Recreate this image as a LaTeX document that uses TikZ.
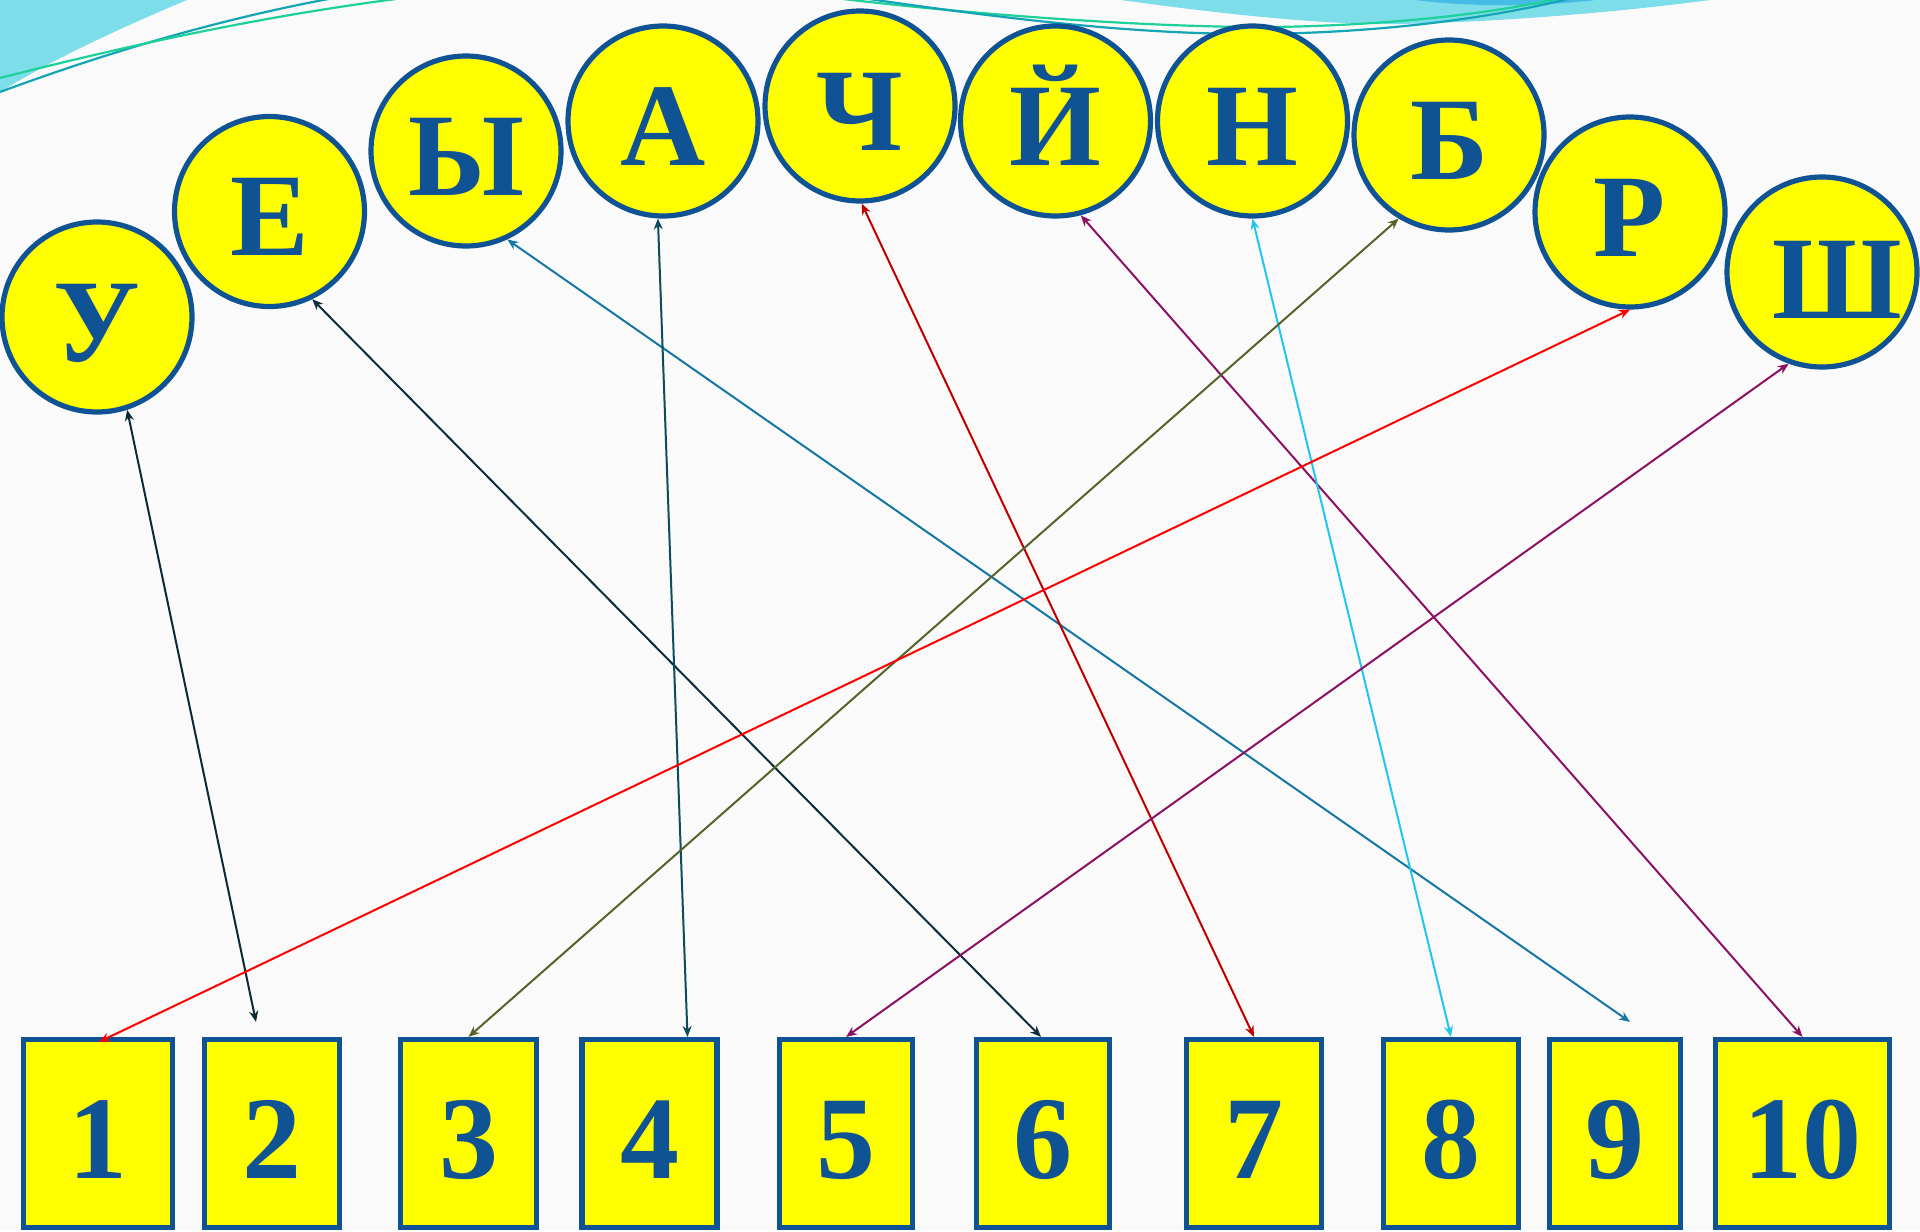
\documentclass[tikz,border=0pt]{standalone}
\usepackage{fontspec}
\setmainfont{Liberation Serif}
\usetikzlibrary{arrows.meta,calc}
\definecolor{nblue}{HTML}{0F5395}
\definecolor{bgc}{HTML}{FAFAFA}
\definecolor{cyanA}{HTML}{7DDDE9}
\definecolor{cyanB}{HTML}{45BCE5}
\definecolor{greenL}{HTML}{1ED09A}
\definecolor{tealL}{HTML}{14A5B5}
\definecolor{cA}{HTML}{0A2A35}
\definecolor{cB}{HTML}{0C2D3E}
\definecolor{cC}{HTML}{1577A3}
\definecolor{cD}{HTML}{0D4B5E}
\definecolor{cE}{HTML}{C00000}
\definecolor{cF}{HTML}{8C1163}
\definecolor{cG}{HTML}{22C5F0}
\definecolor{cH}{HTML}{56642A}
\definecolor{cI}{HTML}{FF0000}
\definecolor{cJ}{HTML}{8C1163}
\definecolor{yel}{HTML}{FFFF00}
\begin{document}
\begin{tikzpicture}[x=0.5pt,y=-0.5pt,
  letter/.style={circle,draw=nblue,fill=yel,line width=2.6pt,minimum size=95pt,inner sep=0pt,
    text=nblue,font=\fontsize{59}{60}\selectfont\bfseries,text height=44pt,text depth=0pt},
  numbox/.style={rectangle,draw=nblue,fill=yel,line width=2.6pt,minimum height=94pt,inner sep=0pt,
    text=nblue,font=\fontsize{59}{60}\selectfont\bfseries,text height=45pt,text depth=0pt},
  link/.style={{Stealth[length=5.5pt,width=4.5pt]}-{Stealth[length=5.5pt,width=4.5pt]},line width=1pt},
  deco/.style={line width=1.1pt}]
\useasboundingbox (0,0) rectangle (1920,1231);
\fill[bgc] (0,0) rectangle (1920,1231);
\begin{scope}
\clip (0,0) rectangle (1920,1231);
\fill[cyanA] (0,-2) -- (187,-2) -- (187,0) .. controls (130,24) and (60,55) .. (0,92) -- cycle;
\fill[cyanA] (1121,-2) -- (1121,0) .. controls (1250,18) and (1340,25) .. (1400,24) .. controls (1500,22) and (1620,12) .. (1710,0) -- (1710,-2) -- cycle;
\fill[cyanB] (1415,0) .. controls (1470,7) and (1540,7) .. (1595,0) -- cycle;
\draw[deco,tealL] (0,92) .. controls (100,55) and (220,18) .. (345,-4);
\draw[deco,greenL] (0,78) .. controls (130,45) and (270,14) .. (420,-4);
\draw[deco,greenL] (835,-2) .. controls (1000,18) and (1180,28) .. (1275,27) .. controls (1400,25) and (1500,12) .. (1560,-2);
\draw[deco,tealL] (862,-2) .. controls (1040,24) and (1150,34) .. (1255,34) .. controls (1390,33) and (1500,16) .. (1572,-2);
\end{scope}

% letter circles
\node[letter] (cU) at (97,317) {У};
\node[letter] (cE) at (269.5,211.5) {Е};
\node[letter] (cY) at (466,151) {Ы};
\node[letter] (cA) at (663,121) {А};
\node[letter] (cCh) at (860,106) {Ч};
\node[letter] (cJ) at (1055.5,121) {Й};
\node[letter] (cN) at (1252.5,121) {Н};
\node[letter] (cB) at (1449,135) {Б};
\node[letter] (cR) at (1630,212) {Р};
\node[letter,text height=46pt] (cSh) at (1822,272) {\hspace*{15pt}Ш};

% number boxes
\node[numbox,minimum width=74.5pt] (b1) at (98,1133.5) {1};
\node[numbox,minimum width=67.5pt] (b2) at (272,1133.5) {2};
\node[numbox,minimum width=68pt] (b3) at (468.5,1133.5) {3};
\node[numbox,minimum width=67.5pt] (b4) at (649.5,1133.5) {4};
\node[numbox,minimum width=66.5pt] (b5) at (846,1133.5) {5};
\node[numbox,minimum width=66.5pt] (b6) at (1043,1133.5) {6};
\node[numbox,minimum width=67.5pt] (b7) at (1254,1133.5) {7};
\node[numbox,minimum width=67.5pt] (b8) at (1451,1133.5) {8};
\node[numbox,minimum width=65.5pt] (b9) at (1615,1133.5) {9};
\node[numbox,minimum width=87pt] (b10) at (1802.5,1133.5) {10};

% free ends
\coordinate (e2) at ($(b2.north)+(-16,-15)$);
\coordinate (e9) at ($(b9.north)+(15,-15)$);
\coordinate (e4) at ($(b4.north)+(38,0)$);
\coordinate (e1) at ($(b1.north)+(1,5)$);
\coordinate (e6) at ($(b6.north)+(-2,0)$);

% connectors
\draw[link,color=cA] (cU.288) -- (e2);
\draw[link,color=cB] (cE.296) -- (e6);
\draw[link,color=cC] (cY.295) -- (e9);
\draw[link,color=cD] (cA.267) -- (e4);
\draw[link,color=cE] (cCh.271) -- (b7.north);
\draw[link,color=cF] (cJ.285) -- (b10.north);
\draw[link,color=cG] (cN.270) -- (b8.north);
\draw[link,color=cH] (cB.239) -- (b3.north);
\draw[link,color=cI] (cR.270) -- (e1);
\draw[link,color=cJ] (cSh.250) -- (b5.north);
\end{tikzpicture}
\end{document}
